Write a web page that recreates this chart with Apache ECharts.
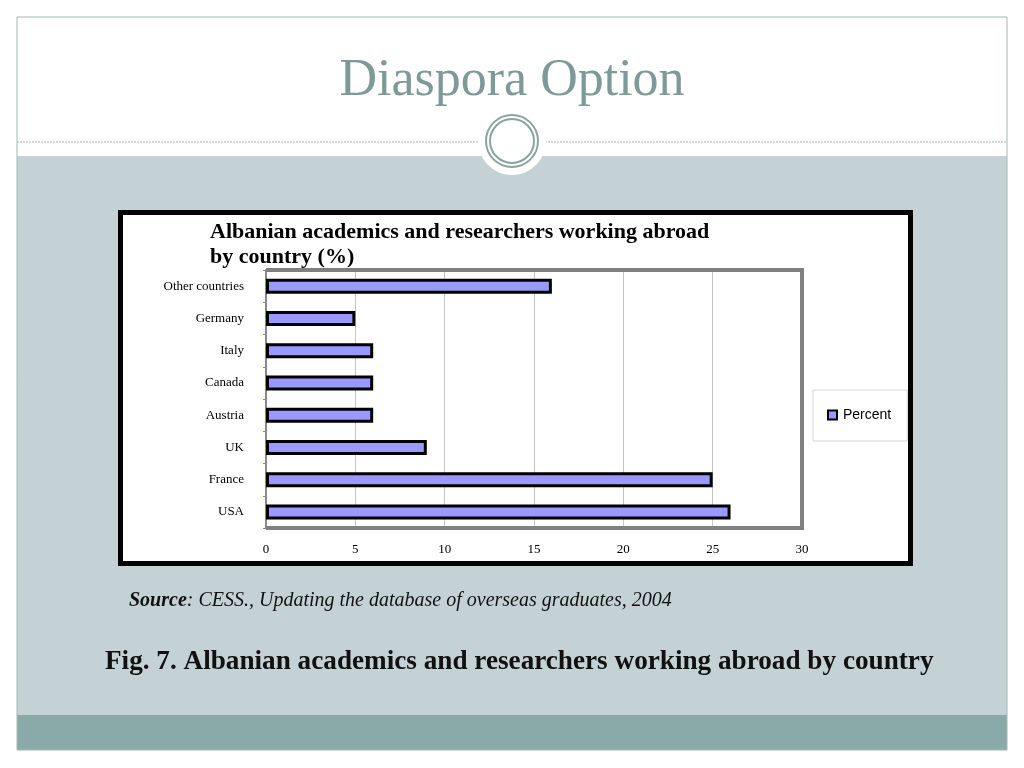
<!DOCTYPE html>
<html>
<head>
<meta charset="utf-8">
<script src="https://cdn.jsdelivr.net/npm/echarts@6/dist/echarts.min.js"></script>
<style>
html,body{margin:0;padding:0;background:#fff;}
#main{width:1024px;height:768px;}
</style>
</head>
<body>
<div id="main"></div>
<script>
// ---- data ----
const categories = ['Other countries', 'Germany', 'Italy', 'Canada', 'Austria', 'UK', 'France', 'USA'];
const percentValues = [16, 5, 6, 6, 6, 9, 25, 26];
const seriesName = 'Percent';
const xMin = 0, xMax = 30, xInterval = 5;

const slideTitle = 'Diaspora Option';
const chartTitle = 'Albanian academics and researchers working abroad\nby country (%)';
const sourceLabel = 'Source';
const sourceText = ': CESS., Updating the database of overseas graduates, 2004';
const figCaption = 'Fig. 7. Albanian academics and researchers working abroad by country';

// ---- layout ----
const G = { left: 266, top: 270, width: 536, height: 258 };
const serif = '"Liberation Serif", "Times New Roman", serif';
const sans = '"Liberation Sans", Arial, sans-serif';

const chart = echarts.init(document.getElementById('main'));
const option = {
  backgroundColor: '#ffffff',
  animation: false,
  title: [
    {
      text: slideTitle, left: 'center', top: 55, padding: 0,
      textStyle: { fontFamily: serif, fontSize: 52, fontWeight: 'normal', color: '#7d9a98' }
    },
    {
      text: chartTitle, left: 210, top: 220, padding: 0,
      textStyle: { fontFamily: serif, fontSize: 22, fontWeight: 'bold', color: '#000', lineHeight: 25 }
    }
  ],
  graphic: [
    // gray content area
    { type: 'rect', z: -20, silent: true, shape: { x: 17, y: 156, width: 990, height: 560 }, style: { fill: '#c5d2d5' } },
    // bottom band
    { type: 'rect', z: -20, silent: true, shape: { x: 17, y: 715, width: 990, height: 35 }, style: { fill: '#8aaaaa' } },
    // outer slide frame
    { type: 'rect', z: -19, silent: true, shape: { x: 17, y: 17, width: 990, height: 733 }, style: { fill: 'none', stroke: '#a4b6b5', lineWidth: 1 } },
    // dashed separator
    { type: 'line', z: -18, silent: true, shape: { x1: 17, y1: 142, x2: 1007, y2: 142 }, style: { stroke: '#a7afaf', lineWidth: 1, lineDash: [2, 1] } },
    // ornament
    { type: 'circle', z: -17, silent: true, shape: { cx: 512, cy: 141, r: 34 }, style: { fill: '#ffffff' } },
    { type: 'circle', z: -16, silent: true, shape: { cx: 512, cy: 141, r: 26 }, style: { fill: 'none', stroke: '#8aa2a0', lineWidth: 2 } },
    { type: 'circle', z: -16, silent: true, shape: { cx: 512, cy: 141, r: 22 }, style: { fill: 'none', stroke: '#8aa2a0', lineWidth: 2 } },
    // chart box
    { type: 'rect', z: -15, silent: true, shape: { x: 120.5, y: 212.5, width: 790, height: 351 }, style: { fill: '#ffffff', stroke: '#000', lineWidth: 5 } },
    // plot frame (top, right, bottom)
    { type: 'polyline', z: 10, silent: true,
      shape: { points: [[G.left, G.top], [G.left + G.width, G.top], [G.left + G.width, G.top + G.height], [G.left, G.top + G.height]] },
      style: { fill: 'none', stroke: '#808080', lineWidth: 4 } },
    // source line
    { type: 'text', z: 5, silent: true, left: 129, top: 591,
      style: {
        text: '{b|' + sourceLabel + '}{i|' + sourceText + '}',
        rich: {
          b: { fontFamily: serif, fontSize: 20, fontStyle: 'italic', fontWeight: 'bold', fill: '#111' },
          i: { fontFamily: serif, fontSize: 20, fontStyle: 'italic', fill: '#111' }
        }
      } },
    // figure caption
    { type: 'text', z: 5, silent: true, left: 105, top: 648,
      style: { text: figCaption, fontFamily: serif, fontSize: 27.2, fontWeight: 'bold', fill: '#111' } }
  ],
  legend: {
    data: [seriesName],
    left: 813, top: 390,
    orient: 'vertical',
    backgroundColor: '#ffffff',
    borderColor: '#d4d4d4', borderWidth: 1,
    padding: [18, 16, 19, 14],
    itemWidth: 9, itemHeight: 9, itemGap: 5,
    icon: 'rect',
    itemStyle: { borderColor: '#000', borderWidth: 2 },
    textStyle: { fontFamily: sans, fontSize: 14, color: '#000', padding: [0, 0, 0, 1] }
  },
  grid: {
    left: G.left, top: G.top, width: G.width, height: G.height,
    show: true, backgroundColor: '#ffffff', borderWidth: 0
  },
  xAxis: {
    type: 'value', min: xMin, max: xMax, interval: xInterval,
    axisLine: { show: false },
    axisTick: { show: false },
    axisLabel: { fontFamily: serif, fontSize: 13, color: '#000', margin: 15 },
    splitLine: { show: true, lineStyle: { color: '#c4c4c4', width: 1 } }
  },
  yAxis: {
    type: 'category', data: categories, inverse: true,
    axisLine: { show: true, lineStyle: { color: '#8a8a8a', width: 2 } },
    axisTick: { show: true, length: 3, lineStyle: { color: '#8a8a8a' } },
    axisLabel: { fontFamily: serif, fontSize: 13, color: '#000', margin: 22 }
  },
  series: [{
    name: seriesName,
    type: 'bar',
    data: percentValues,
    barWidth: 15,
    itemStyle: { color: '#9999ff', borderColor: '#000', borderWidth: 3 }
  }]
};
chart.setOption(option);
</script>
</body>
</html>
